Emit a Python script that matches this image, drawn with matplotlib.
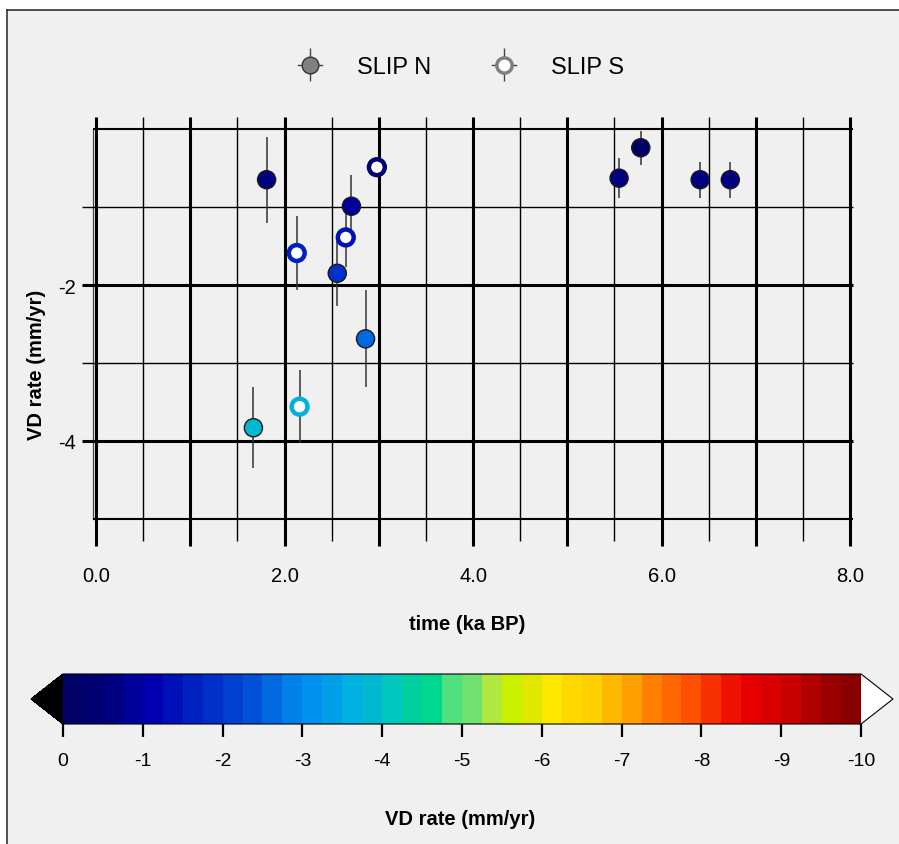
import numpy as np
import matplotlib
matplotlib.use("Agg")
import matplotlib.pyplot as plt
from matplotlib.colors import ListedColormap, BoundaryNorm
from matplotlib.lines import Line2D
from matplotlib.legend_handler import HandlerErrorbar
from matplotlib.container import ErrorbarContainer
import matplotlib.cm as cm

plt.rcParams['font.family'] = ['Liberation Sans', 'DejaVu Sans']

# SLIP N (filled)
n_time = [1.81, 2.71, 2.56, 2.86, 1.67, 5.55, 5.78, 6.41, 6.73]
n_rate = [-0.65, -0.99, -1.85, -2.69, -3.83, -0.63, -0.24, -0.65, -0.65]
n_err = [0.55, 0.40, 0.42, 0.62, 0.52, 0.26, 0.22, 0.23, 0.23]

# SLIP S (open)
s_time = [2.98, 2.65, 2.13, 2.16]
s_rate = [-0.49, -1.39, -1.59, -3.56]
s_err = [0.0, 0.38, 0.48, 0.47]

# colour scale, 40 steps from 0 to -10
cb_colors = ['#000066', '#000070', '#000080', '#00009a', '#0000b0', '#0010b8',
             '#0020c0', '#0030c8', '#0040d0', '#0050d8', '#0068e0', '#0080e8',
             '#0090f0', '#00a0e8', '#00b0e0', '#00b8d0', '#00c8c0', '#00d0a0',
             '#00d890', '#50e080', '#70e070', '#b0e840', '#c8f000', '#e0e800',
             '#ffe800', '#ffd800', '#ffd000', '#ffb800', '#ffa000', '#ff8000',
             '#ff6800', '#ff5000', '#f83000', '#f01000', '#e80000', '#d80000',
             '#c80000', '#b00000', '#980000', '#880000']
cb_ticks = list(range(0, 11))
cb_ticklabels = ['0'] + ['-%d' % k for k in range(1, 11)]

x_ticks = [0, 2, 4, 6, 8]
x_ticklabels = ['0.0', '2.0', '4.0', '6.0', '8.0']
y_ticks = [-2, -4]
y_ticklabels = ['-2', '-4']

cmap = ListedColormap(cb_colors)
cmap.set_under('black')
cmap.set_over('white')
levels = np.arange(0, 10.25, 0.25)
norm = BoundaryNorm(levels, cmap.N)

W, H = 899, 845
fig = plt.figure(figsize=(W / 100, H / 100), dpi=100, facecolor='white')

# grey panel with frame on top and left
fx0, fy1 = 7 / W, 1 - 11 / H
fig.patches.append(plt.Rectangle((fx0, 0), 1 - fx0, fy1, transform=fig.transFigure,
                                 facecolor='#f0f0f0', edgecolor='none', zorder=-10))
fig.add_artist(Line2D([fx0, 1], [fy1, fy1], transform=fig.transFigure, color='#333333', lw=1.2))
fig.add_artist(Line2D([fx0, fx0], [0, fy1], transform=fig.transFigure, color='#333333', lw=1.2))

# main axes: x 0..8 -> px 96..850, y 0..-5 -> px 130..520
xl, xr = -0.2, 8.2
yb, yt = -5.5, 0.3
pxu, pyu = 94.25, 78.0
left = 96 + xl * pxu
right = 96 + xr * pxu
top = 130 - yt * pyu
bottom = 130 - yb * pyu
ax = fig.add_axes([left / W, 1 - bottom / H, (right - left) / W, (bottom - top) / H])
ax.set_xlim(xl, xr)
ax.set_ylim(yb, yt)
ax.patch.set_visible(False)
for s in ax.spines.values():
    s.set_visible(False)

# sketch grid
for k in range(9):
    ax.plot([k, k], [0.16, -5.35], color='black', lw=2.2, zorder=1, solid_capstyle='butt')
for k in range(8):
    ax.plot([k + 0.5, k + 0.5], [0.16, -5.28], color='black', lw=1.0, zorder=1, solid_capstyle='butt')
ax.plot([-0.03, -0.03], [0, -5], color='#444444', lw=0.9, zorder=1)
for yv, lw, x0 in [(0, 1.5, -0.03), (-1, 1.0, -0.15), (-2, 2.2, -0.15),
                   (-3, 1.0, -0.15), (-4, 2.2, -0.15), (-5, 1.5, -0.03)]:
    ax.plot([x0, 8.03], [yv, yv], color='black', lw=lw, zorder=1, solid_capstyle='butt')

# error bars
ax.errorbar(n_time, n_rate, yerr=n_err, fmt='none', ecolor='#333333', elinewidth=1.1, zorder=2)
ax.errorbar(s_time, s_rate, yerr=s_err, fmt='none', ecolor='#333333', elinewidth=1.1, zorder=2)

n_cols = cmap(norm(-np.array(n_rate)))
s_cols = cmap(norm(-np.array(s_rate)))
ax.scatter(n_time, n_rate, s=170, c=n_cols, edgecolors='#1a1a1a', linewidths=1.0, zorder=3)
ax.scatter(s_time, s_rate, s=130, facecolors='white', edgecolors=s_cols, linewidths=3.2, zorder=3)

ax.set_xticks(x_ticks)
ax.set_xticklabels(x_ticklabels)
ax.set_yticks(y_ticks)
ax.set_yticklabels(y_ticklabels)
ax.tick_params(axis='both', length=0, labelsize=14.5)
ax.tick_params(axis='x', pad=6)
ax.tick_params(axis='y', pad=1)

fig.text(37 / W, 1 - 365 / H, 'VD rate (mm/yr)', rotation=90, ha='center', va='center',
         fontsize=14.5, fontweight='bold')
fig.text(467 / W, 1 - 625 / H, 'time (ka BP)', ha='center', va='center',
         fontsize=14.5, fontweight='bold')

# legend
hN = ax.errorbar([], [], yerr=[], fmt='-o', color='#444444', ecolor='#444444', lw=1.0,
                 elinewidth=1.0, ms=12, mfc='#808080', mec='#333333', mew=1.0)
hS = ax.errorbar([], [], yerr=[], fmt='-o', color='#444444', ecolor='#444444', lw=1.0,
                 elinewidth=1.0, ms=11, mfc='white', mec='#808080', mew=2.5)
fig.legend([hN, hS], ['SLIP N', 'SLIP S'], loc='center', bbox_to_anchor=(0.513, 1 - 68 / H),
           ncol=2, frameon=False, fontsize=17, handlelength=1.0, handletextpad=1.5,
           columnspacing=2.6, handler_map={ErrorbarContainer: HandlerErrorbar(yerr_size=0.7)})

# colour bar (axes includes the end arrows)
cax = fig.add_axes([31 / W, 1 - 725 / H, 862 / W, 50 / H])
sm = cm.ScalarMappable(norm=norm, cmap=cmap)
cb = fig.colorbar(sm, cax=cax, orientation='horizontal', extend='both',
                  extendfrac=0.04, ticks=cb_ticks, drawedges=False)
cb.ax.minorticks_off()
cb.ax.set_xticklabels(cb_ticklabels)
cb.ax.tick_params(length=9, width=1.6, labelsize=14, pad=11, color='black')
cb.outline.set_linewidth(0.8)
fig.text(460 / W, 1 - 820 / H, 'VD rate (mm/yr)', ha='center', va='center',
         fontsize=14.5, fontweight='bold')

fig.savefig('out.png', dpi=100)
